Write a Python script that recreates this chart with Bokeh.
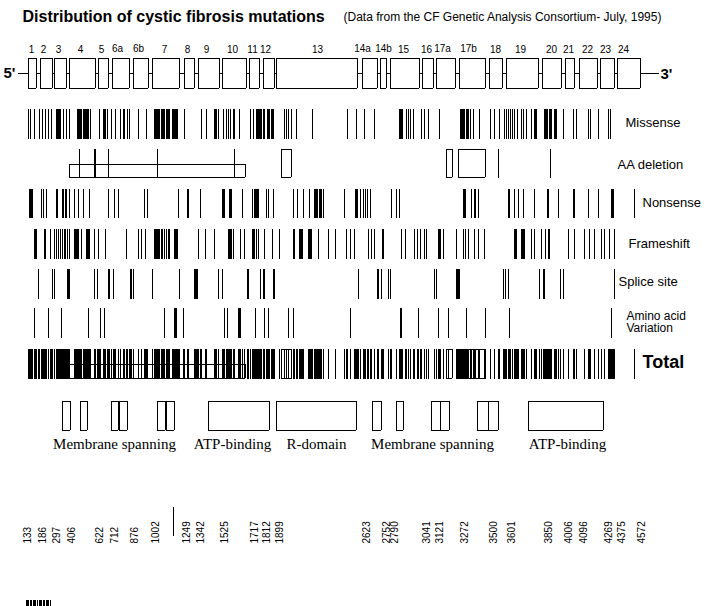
import math
from bokeh.plotting import figure
from bokeh.models import Range1d, ColumnDataSource, InlineStyleSheet
from bokeh.core.properties import value
from bokeh.embed import file_html
from bokeh.resources import INLINE

# ---------------- data ----------------
title_text = "Distribution of cystic fibrosis mutations"
subtitle_text = "(Data from the CF Genetic Analysis Consortium- July, 1995)"

exon_names = ["1", "2", "3", "4", "5", "6a", "6b", "7", "8", "9", "10", "11", "12", "13",
              "14a", "14b", "15", "16", "17a", "17b", "18", "19", "20", "21", "22", "23", "24"]
exon_start = [27, 39, 53, 68, 97, 111, 132, 151, 183, 197, 221, 248, 262, 275,
              361, 379, 389, 421, 435, 458, 488, 505, 541, 564, 578, 599, 616]
exon_end = [35, 51, 65, 94, 107, 128, 147, 178, 193, 218, 245, 258, 273, 356,
            376, 385, 418, 432, 454, 484, 501, 537, 560, 573, 596, 613, 639]
exon_label_x = [31, 43, 58, 80, 101, 117, 138, 164, 187, 206, 232, 252, 265, 317,
                362, 383, 403, 426, 442, 468, 495, 520, 551, 568, 587, 605, 623]
gene_start = 17
gene_end = 658

missense = [27, 29, 33, 38, 41, 44, 47, 50, 55, 56, 57, 58, 59, 62, 65, 68, 76, 77, 78, 79, 80,
            82, 83, 84, 85, 86, 87, 89, 98, 102, 103, 104, 106, 110, 114, 119, 122, 123, 126, 128,
            137, 145, 153, 154, 155, 156, 157, 158, 160, 161, 162, 163, 165, 166, 167, 168, 171,
            172, 173, 174, 175, 176, 183, 200, 205, 213, 214, 215, 217, 222, 225, 227, 229, 232,
            233, 238, 249, 252, 255, 256, 257, 258, 259, 260, 262, 263, 266, 267, 268, 270, 271,
            272, 283, 285, 287, 290, 295, 311,
            346, 355, 363, 373, 398, 399, 400, 401, 405, 407, 409, 412, 420, 423, 427, 438, 459,
            460, 461, 462, 463, 465, 466, 467, 469, 472, 478, 489, 493, 498, 503, 505, 507, 509,
            511, 513, 516, 520, 522, 525, 530, 533, 534, 535, 543, 544, 545, 546, 548, 549, 550,
            553, 554, 555, 562, 572, 575, 587, 589, 597, 607, 609]

aa_deletion_lines = [78, 93, 94, 107, 156, 233, 497, 549]
aa_deletion_box_left = [68, 280, 445, 457]
aa_deletion_box_right = [244, 290, 451, 484]
aa_deletion_box_partial = [True, False, False, False]

nonsense = [28, 29, 30, 31, 40, 42, 45, 55, 56, 61, 62, 64, 65, 68, 73, 77, 82, 88, 107, 113,
            117, 143, 146, 177, 186, 187, 199, 221, 222, 223, 228, 229, 230, 241, 251, 253, 254,
            255, 256, 257, 265, 267, 272, 292, 296, 302, 308, 313, 314, 315, 316, 318, 319, 320,
            322, 343,
            354, 355, 356, 359, 362, 364, 366, 369, 390, 395, 398, 462, 463, 464, 470, 473, 474,
            477, 507, 508, 513, 517, 522, 533, 546, 547, 557, 572, 573, 587, 597, 610, 611, 612,
            633]

frameshift = [33, 34, 35, 43, 44, 49, 53, 55, 57, 59, 61, 63, 64, 66, 68, 73, 74, 75, 76, 77,
              80, 85, 86, 87, 88, 93, 97, 104, 125, 137, 140, 144, 153, 154, 155, 156, 157, 158,
              160, 161, 163, 165, 167, 168, 173, 174, 175, 176, 197, 204, 213, 227, 228, 229, 230,
              232, 239, 243, 251, 252, 253, 255, 257, 263, 271, 278, 292, 293, 298, 299, 300, 301,
              307, 308, 309, 310, 317, 327, 334,
              345, 349, 353, 367, 370, 373, 381, 382, 400, 404, 413, 416, 419, 423, 425, 437, 438,
              439, 442, 455, 462, 464, 467, 473, 477, 483, 513, 514, 515, 520, 521, 522, 523, 530,
              533, 540, 544, 547, 548, 567, 573, 583, 588, 593, 600, 603, 608, 613]

splice_site = [37, 51, 53, 66, 67, 68, 93, 96, 107, 108, 112, 129, 130, 132, 151, 178, 193, 194,
               195, 196, 217, 221, 246, 247, 259, 262, 263, 272, 273,
               357, 376, 377, 380, 387, 389, 433, 435, 455, 456, 457, 458, 502, 504, 507, 538,
               542, 543, 559, 562, 613]

aa_variation = [33, 47, 60, 87, 99, 103, 163, 173, 174, 175, 182, 223, 226, 237, 238, 239, 254,
                263, 267, 287, 292, 349, 399, 400, 417, 437, 447, 465, 484, 508, 610]

row_names = ["Missense", "AA deletion", "Nonsense", "Frameshift", "Splice site"]

domain_left = [61, 79, 110, 118, 156, 165, 207, 275, 371, 395, 430, 439, 476, 487, 527]
domain_right = [69, 86, 117, 126, 164, 173, 268, 355, 380, 402, 439, 448, 487, 497, 602]
domain_labels = ["Membrane spanning", "ATP-binding", "R-domain", "Membrane spanning", "ATP-binding"]
domain_label_x = [114, 232, 316, 432, 567]

position_labels = ["133", "186", "297", "406", "622", "712", "876", "1002", "1249", "1342",
                   "1525", "1717", "1812", "1899", "2623", "2752", "2790", "3041", "3121",
                   "3272", "3500", "3601", "3850", "4006", "4096", "4269", "4375", "4572"]
position_x = [26, 41, 55, 70, 98, 113, 133, 154, 185, 199, 223, 253, 265, 278, 365, 385, 393,
              425, 438, 463, 492, 510, 547, 567, 582, 607, 620, 640]
marker_x = 172

scale_ticks = [25, 26, 27, 29, 30, 32, 33, 34, 36, 38, 39, 40, 42, 43, 45, 46, 47, 49]

# ---------------- figure ----------------
p = figure(width=704, height=606, x_range=Range1d(0, 704), y_range=Range1d(606, 0),
           output_backend="svg", toolbar_location=None, x_axis_type=None, y_axis_type=None,
           min_border=0)
p.outline_line_color = None
p.background_fill_color = "white"
p.border_fill_color = "white"
p.stylesheets = [InlineStyleSheet(css="* { shape-rendering: crispEdges; }")]
for g in p.grid:
    g.visible = False

SANS = value("Liberation Sans")
SERIF = value("Liberation Serif")


def txt(x, y, t, size, font=SANS, style="normal", align="left", baseline="middle", angle=0.0):
    src = ColumnDataSource(dict(x=list(x), y=list(y), t=list(t)))
    p.text(x="x", y="y", text="t", source=src, text_font=font, text_font_size=size,
           text_font_style=style, text_align=align, text_baseline=baseline,
           angle=angle, text_color="black")


def bars(xs, top, bottom):
    src = ColumnDataSource(dict(left=list(xs), right=[x + 1 for x in xs]))
    p.quad(left="left", right="right", top=top, bottom=bottom, source=src,
           fill_color="black", line_color=None)


def boxes(lefts, rights, tops, bottoms, fill="white"):
    src = ColumnDataSource(dict(left=[l + 0.5 for l in lefts], right=[r + 0.5 for r in rights],
                                top=[t + 0.5 for t in tops], bottom=[b + 0.5 for b in bottoms]))
    p.quad(left="left", right="right", top="top", bottom="bottom", source=src,
           fill_color=fill, line_color="black", line_width=1)


# title
txt([22], [16], [title_text], "16px", style="bold", baseline="alphabetic")
txt([343], [16], [subtitle_text], "12px", baseline="alphabetic")

# gene structure
p.segment(x0=[gene_start], y0=[72.5], x1=[gene_end], y1=[72.5], line_color="black", line_width=1)
boxes(exon_start, exon_end, [57] * len(exon_start), [87] * len(exon_start))
txt(exon_label_x, [48] * len(exon_names), exon_names, "10px", align="center")
txt([3], [72], ["5'"], "15px", style="bold")
txt([660], [73], ["3'"], "15px", style="bold")

# rows
bands = {"Missense": (108, 138), "AA deletion": (148, 177), "Nonsense": (188, 217),
         "Frameshift": (228, 258), "Splice site": (268, 298), "Amino acid": (307, 337),
         "Total": (348, 378)}

bars(missense, *bands["Missense"])
bars(aa_deletion_lines, *bands["AA deletion"])
bars(nonsense, *bands["Nonsense"])
bars(frameshift, *bands["Frameshift"])
bars(splice_site, *bands["Splice site"])
bars(aa_variation, *bands["Amino acid"])

total = sorted(set(missense + aa_deletion_lines + nonsense + frameshift + splice_site + aa_variation))
bars(total, *bands["Total"])

for row in ["AA deletion", "Total"]:
    t0, b0 = bands[row]
    tops = [t0 + 15 if part else t0 for part in aa_deletion_box_partial]
    src = ColumnDataSource(dict(left=[l + 0.5 for l in aa_deletion_box_left],
                                right=[r + 0.5 for r in aa_deletion_box_right],
                                top=[t + 0.5 for t in tops],
                                bottom=[b0 - 0.5] * len(tops)))
    p.quad(left="left", right="right", top="top", bottom="bottom", source=src,
           fill_color=None, line_color="black", line_width=1)

row_label_x = [625, 617, 642, 628, 618]
row_label_y = [122, 164, 202, 243, 281]
txt(row_label_x, row_label_y, row_names, "13px")
txt([626, 626], [315, 327], ["Amino acid", "Variation"], "12px")
txt([642], [361], ["Total"], "18px", style="bold")

# domains
boxes(domain_left, domain_right, [400] * len(domain_left), [429] * len(domain_left))
txt(domain_label_x, [443] * len(domain_labels), domain_labels, "15px", font=SERIF, align="center")

# nucleotide positions
txt(position_x, [543] * len(position_x), position_labels, "10px", angle=math.pi / 2,
    align="left", baseline="middle")
p.segment(x0=[marker_x + 0.5], y0=[506], x1=[marker_x + 0.5], y1=[535], line_color="black",
          line_width=1)

# small scale mark, bottom left
bars(scale_ticks, 599, 605)

open("out.html", "w").write(file_html(p, INLINE))
